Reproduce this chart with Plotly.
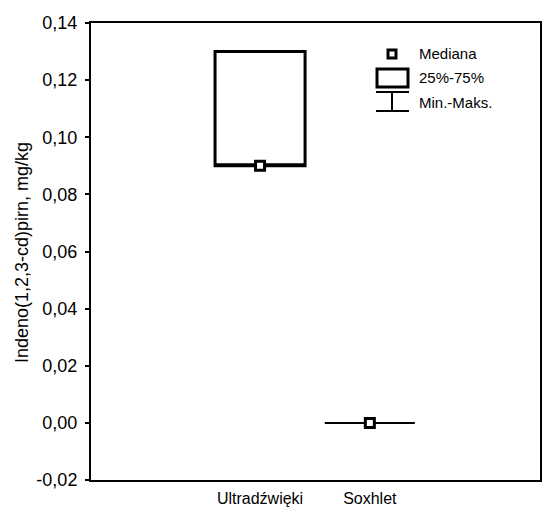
import plotly.graph_objects as go

categories = ["Ultradźwięki", "Soxhlet"]
q1_vals = [0.09, 0.0]
median_vals = [0.09, 0.0]
q3_vals = [0.13, 0.0]
min_vals = [0.09, 0.0]
max_vals = [0.13, 0.0]
y_ticks = [-0.02, 0.0, 0.02, 0.04, 0.06, 0.08, 0.10, 0.12, 0.14]
y_title = "Indeno(1,2,3-cd)pirn, mg/kg"
legend_labels = ["Mediana", "25%-75%", "Min.-Maks."]

FONT = "Liberation Sans, Arial, sans-serif"
line_widths = [3, 2]

fig = go.Figure()
for i, cat in enumerate(categories):
    fig.add_trace(go.Box(
        x=[cat], q1=[q1_vals[i]], median=[median_vals[i]], q3=[q3_vals[i]],
        lowerfence=[min_vals[i]], upperfence=[max_vals[i]],
        width=0.82, whiskerwidth=0,
        fillcolor="rgba(255,255,255,0)",
        line=dict(color="black", width=line_widths[i]),
        boxpoints=False, showlegend=False, hoverinfo="skip",
    ))
fig.add_trace(go.Scatter(
    x=categories, y=median_vals, mode="markers",
    marker=dict(symbol="square", size=9, color="white",
                line=dict(color="black", width=3)),
    showlegend=False, hoverinfo="skip",
))

# legend drawn in paper coords
L, R, T, B = 91, 540, 23, 480
def px(x):
    return (x - L) / (R - L)
def py(y):
    return (B - y) / (B - T)

shapes = [
    dict(type="rect", xref="paper", yref="paper",
         x0=px(388), x1=px(396), y0=py(58), y1=py(50),
         line=dict(color="black", width=3), fillcolor="white"),
    dict(type="rect", xref="paper", yref="paper",
         x0=px(377), x1=px(408), y0=py(87), y1=py(69),
         line=dict(color="black", width=3), fillcolor="white"),
    dict(type="line", xref="paper", yref="paper",
         x0=px(376), x1=px(409), y0=py(92), y1=py(92),
         line=dict(color="black", width=2)),
    dict(type="line", xref="paper", yref="paper",
         x0=px(392), x1=px(392), y0=py(92), y1=py(111),
         line=dict(color="black", width=2)),
    dict(type="line", xref="paper", yref="paper",
         x0=px(376), x1=px(409), y0=py(111), y1=py(111),
         line=dict(color="black", width=2)),
]

annotations = []
for lab, yy in zip(legend_labels, [54, 78, 102]):
    annotations.append(dict(text=lab, xref="paper", yref="paper",
                            x=px(417), y=py(yy), xanchor="left", yanchor="middle",
                            showarrow=False, font=dict(family=FONT, size=15, color="black")))
annotations.append(dict(text=y_title, xref="paper", yref="paper",
                        x=px(22), y=py(253), xanchor="center", yanchor="middle",
                        textangle=-90, showarrow=False,
                        font=dict(family=FONT, size=18, color="black")))

tick_text = [("%.2f" % v).replace(".", ",") for v in y_ticks]

fig.update_layout(
    width=544, height=509,
    margin=dict(l=91, r=4, t=23, b=29, autoexpand=False),
    paper_bgcolor="white", plot_bgcolor="white",
    font=dict(family=FONT, size=16, color="black"),
    shapes=shapes, annotations=annotations,
    showlegend=False,
)
fig.update_xaxes(
    type="category", range=[-1.54, 2.55], automargin=False,
    showline=True, linecolor="black", linewidth=2, mirror=True,
    showgrid=False, zeroline=False, ticks="",
    ticklabelstandoff=3,
    tickfont=dict(family=FONT, size=16, color="black"),
)
fig.update_yaxes(
    range=[-0.02, 0.14], tickvals=y_ticks, ticktext=tick_text, automargin=False,
    showline=True, linecolor="black", linewidth=2, mirror=True,
    showgrid=False, zeroline=False,
    ticks="outside", ticklen=4, tickwidth=1.5, tickcolor="black",
    ticklabelstandoff=4,
    tickfont=dict(family=FONT, size=18, color="black"),
)

fig.write_html("out.html")
